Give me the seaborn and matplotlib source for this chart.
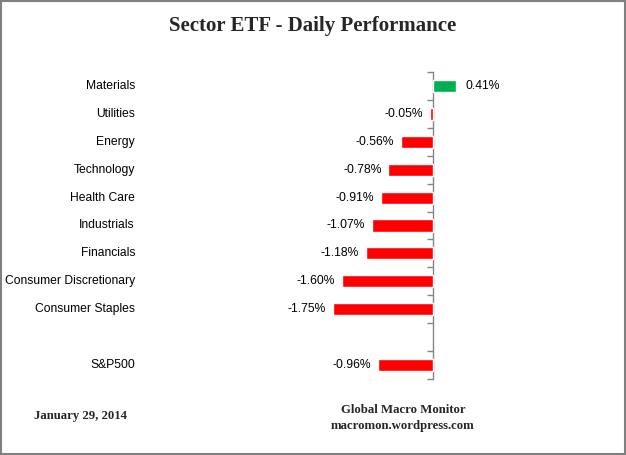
import matplotlib
matplotlib.use("Agg")
import matplotlib.pyplot as plt
import matplotlib.transforms as mtransforms
from matplotlib.patches import Rectangle
import seaborn as sns
import numpy as np
import pandas as pd

categories = ["Materials", "Utilities", "Energy", "Technology", "Health Care",
              "Industrials", "Financials", "Consumer Discretionary",
              "Consumer Staples", " ", "S&P500"]
values = [0.41, -0.05, -0.56, -0.78, -0.91, -1.07, -1.18, -1.60, -1.75, np.nan, -0.96]
value_labels = ["0.41%", "-0.05%", "-0.56%", "-0.78%", "-0.91%", "-1.07%",
                "-1.18%", "-1.60%", "-1.75%", "", "-0.96%"]
title = "Sector ETF - Daily Performance"
footer_left = "January 29, 2014"
footer_right = "Global Macro Monitor\nmacromon.wordpress.com"

sns.set_style("white")
plt.rcParams["font.family"] = ["Liberation Sans", "DejaVu Sans"]

df = pd.DataFrame({"cat": categories, "val": values})
palette = {c: ("#00B050" if (v == v and v > 0) else "#FF0000") for c, v in zip(categories, values)}

W, H = 626, 455
fig = plt.figure(figsize=(W / 100, H / 100), dpi=100)
ax_left, ax_right, ax_top, ax_bot = 300, 560, 72, 379
ax = fig.add_axes([ax_left / W, (H - ax_bot) / H, (ax_right - ax_left) / W, (ax_bot - ax_top) / H])

sns.barplot(data=df, x="val", y="cat", hue="cat", order=categories, palette=palette,
            legend=False, width=0.43, ax=ax, orient="h", saturation=1)

scale = 57.1
ax.set_xlim(-(433 - ax_left) / scale, (ax_right - 433) / scale)
ax.set_ylim(len(categories) - 0.5, -0.5)
ax.set_xlabel("")
ax.set_ylabel("")
for s in ["top", "right", "bottom"]:
    ax.spines[s].set_visible(False)
ax.spines["left"].set_position(("data", 0))
ax.spines["left"].set_color("#868686")
ax.spines["left"].set_linewidth(1.0)
ax.spines["left"].set_zorder(0.5)
ax.set_xticks([])
ax.set_yticks(np.arange(-0.5, len(categories), 1.0))
ax.set_yticklabels([])
ax.tick_params(axis="y", length=4, width=1.0, color="#868686", direction="out", left=True)

trans = mtransforms.blended_transform_factory(fig.transFigure, ax.transData)
for i, c in enumerate(categories):
    fig.text(135 / W, i, c, transform=trans, ha="right", va="center", fontsize=8.7, color="#000000")

for i, (v, lab) in enumerate(zip(values, value_labels)):
    if v != v:
        continue
    if v >= 0:
        ax.text(v + 9 / scale, i, lab, ha="left", va="center", fontsize=8.7, color="#000000")
    else:
        ax.text(v - 7 / scale, i, lab, ha="right", va="center", fontsize=8.7, color="#000000")

serif = ["Liberation Serif", "DejaVu Serif"]
fig.text(261 / W * 0 + 0.5, 1 - 26 / H, title, ha="center", va="center", fontsize=15,
         fontweight="bold", family=serif)
fig.text(81 / W, 1 - 416 / H, footer_left, ha="center", va="center", fontsize=9.2,
         fontweight="bold", family=serif)
fig.text(403 / W, 1 - 418 / H, footer_right, ha="center", va="center", fontsize=9.2,
         fontweight="bold", family=serif, linespacing=1.5)

fig.patches.append(Rectangle((0.001, 0.002), 0.997, 0.996, transform=fig.transFigure,
                             fill=False, edgecolor="#808080", linewidth=1.5))

fig.savefig("out.png", dpi=100)
